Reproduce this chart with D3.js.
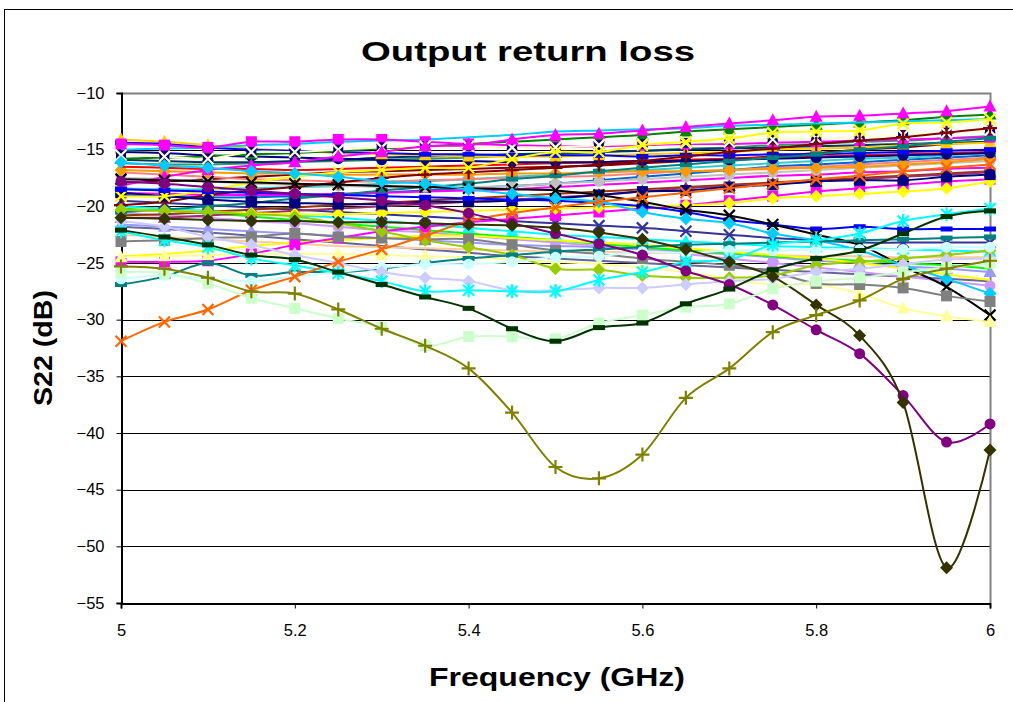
<!DOCTYPE html>
<html>
<head>
<meta charset="utf-8">
<script src="https://cdn.jsdelivr.net/npm/d3@7"></script>
<style>
  body { margin: 0; background: #fff; }
  svg { display: block; font-family: "Liberation Sans", Arial, sans-serif; }
</style>
</head>
<body>
<svg id="chart" width="1013" height="702"></svg>
<script>
// frequency points (GHz)
var freqs = [5.00,5.05,5.10,5.15,5.20,5.25,5.30,5.35,5.40,5.45,5.50,5.55,5.60,5.65,5.70,5.75,5.80,5.85,5.90,5.95,6.00];
var yTicks = [-10,-15,-20,-25,-30,-35,-40,-45,-50,-55];
var xTicks = [5, 5.2, 5.4, 5.6, 5.8, 6];

// S22 values (dB), one array per device
var devMagentaSq = [-14.5,-14.6,-14.8,-14.3,-14.3,-14.1,-14.1,-14.3,-14.5,-14.6,-14.7,-14.7,-14.6,-14.5,-14.5,-14.4,-14.3,-14.2,-14.1,-14.0,-13.9];
var devSkyTop = [-15.0,-14.9,-14.8,-14.6,-14.5,-14.3,-14.2,-14.1,-13.9,-13.7,-13.4,-13.3,-13.2,-13.1,-12.9,-12.8,-12.7,-12.6,-12.5,-12.4,-12.3];
var devGreen = [-15.8,-15.7,-15.6,-15.4,-15.3,-15.1,-14.9,-14.7,-14.5,-14.3,-14.1,-13.9,-13.7,-13.4,-13.2,-13.0,-12.8,-12.6,-12.4,-12.1,-11.9];
var devBlueTop = [-14.4,-14.5,-14.8,-15.0,-15.1,-15.2,-15.3,-15.4,-15.4,-15.5,-15.5,-15.5,-15.6,-15.5,-15.5,-15.4,-15.4,-15.3,-15.2,-15.1,-15.0];
var devGoldTri = [-14.1,-14.3,-14.6,-14.9,-15.1,-15.3,-15.4,-15.5,-15.6,-15.6,-15.6,-15.5,-15.4,-15.3,-15.2,-15.0,-14.9,-14.8,-14.6,-14.5,-14.4];
var devNavyCirc = [-15.2,-15.3,-15.5,-15.6,-15.7,-15.8,-15.9,-16.0,-16.0,-16.1,-16.1,-16.1,-16.0,-16.0,-15.9,-15.8,-15.7,-15.6,-15.5,-15.4,-15.3];
var devDarkTeal = [-15.9,-16.0,-16.1,-16.1,-16.0,-15.9,-15.7,-15.6,-15.5,-15.4,-15.3,-15.2,-15.1,-15.0,-14.9,-14.8,-14.7,-14.6,-14.5,-14.4,-14.3];
var devSeaGreen = [-16.2,-16.3,-16.3,-16.2,-16.1,-16.0,-15.9,-15.8,-15.7,-15.5,-15.4,-15.2,-15.1,-14.9,-14.8,-14.6,-14.5,-14.3,-14.2,-14.0,-13.8];
var devRed = [-16.5,-16.6,-16.7,-16.7,-16.8,-16.7,-16.6,-16.5,-16.4,-16.3,-16.2,-16.1,-16.0,-15.9,-15.8,-15.7,-15.6,-15.5,-15.4,-15.3,-15.2];
var devOrangeDia = [-16.8,-16.9,-17.0,-17.1,-17.1,-17.2,-17.2,-17.2,-17.2,-17.1,-17.1,-17.0,-16.9,-16.9,-16.8,-16.7,-16.6,-16.5,-16.3,-16.1,-15.8];
var devSalmon = [-17.0,-17.2,-17.4,-17.6,-17.7,-17.8,-17.8,-17.7,-17.6,-17.5,-17.4,-17.3,-17.1,-16.9,-16.8,-16.6,-16.5,-16.3,-16.1,-15.9,-15.7];
var devSilver = [-17.5,-17.6,-17.8,-18.0,-18.1,-18.2,-18.3,-18.3,-18.3,-18.2,-18.0,-17.8,-17.6,-17.4,-17.2,-17.0,-16.8,-16.6,-16.4,-16.2,-16.0];
var devMaroonLine = [-17.9,-17.8,-17.6,-17.4,-17.2,-17.0,-16.9,-16.8,-16.7,-16.6,-16.5,-16.4,-16.2,-16.0,-15.8,-15.6,-15.3,-15.0,-14.8,-14.5,-14.3];
var devAqua = [-18.4,-18.5,-18.5,-18.4,-18.3,-18.2,-18.0,-17.8,-17.6,-17.4,-17.2,-17.0,-16.8,-16.6,-16.4,-16.2,-16.0,-15.8,-15.7,-15.5,-15.3];
var devMagentaDia = [-18.8,-18.9,-19.0,-19.0,-19.0,-18.9,-18.8,-18.7,-18.6,-18.5,-18.3,-18.1,-17.9,-17.7,-17.5,-17.3,-17.2,-17.0,-16.9,-16.7,-16.6];
var devMidBlue = [-19.0,-19.1,-19.2,-19.2,-19.1,-19.0,-18.8,-18.6,-18.4,-18.2,-18.0,-17.7,-17.4,-17.1,-16.8,-16.5,-16.3,-16.1,-15.9,-15.7,-15.5];
var devBrown = [-20.8,-20.7,-20.5,-20.3,-20.1,-19.9,-19.7,-19.5,-19.3,-19.1,-18.9,-18.7,-18.5,-18.3,-18.1,-17.9,-17.7,-17.5,-17.3,-17.1,-16.9];
var devPlum = [-21.0,-21.0,-20.8,-20.6,-20.4,-20.2,-20.0,-19.8,-19.6,-19.4,-19.2,-19.0,-18.7,-18.4,-18.2,-18.0,-17.8,-17.6,-17.4,-17.2,-17.0];
var devTealUp = [-20.5,-20.3,-20.0,-19.7,-19.3,-19.0,-18.6,-18.3,-18.0,-17.6,-17.3,-16.9,-16.6,-16.3,-16.0,-15.7,-15.4,-15.0,-14.7,-14.3,-14.0];
var devMaroonPlus = [-19.9,-19.6,-19.0,-18.6,-18.3,-17.9,-17.5,-17.2,-17.0,-16.8,-16.6,-16.3,-16.0,-15.6,-15.2,-14.9,-14.5,-14.2,-13.9,-13.5,-13.1];
var devCreamX = [-15.5,-15.6,-15.8,-15.2,-15.2,-15.0,-14.8,-14.7,-14.7,-14.8,-14.8,-14.6,-14.5,-14.4,-14.3,-14.1,-14.0,-13.9,-13.7,-13.5,-13.3];
var devYellowX = [-19.1,-19.1,-18.6,-17.9,-17.4,-17.0,-16.8,-16.6,-16.6,-15.8,-15.2,-15.2,-14.6,-14.3,-14.0,-13.5,-13.4,-13.3,-12.7,-12.6,-12.3];
var devNavySq = [-18.8,-19.1,-19.4,-19.6,-19.7,-19.8,-19.8,-19.6,-19.6,-19.5,-19.3,-19.0,-18.7,-18.6,-18.3,-18.1,-17.8,-17.7,-17.7,-17.4,-17.2];
var devYellowDia = [-20.3,-20.4,-20.5,-20.6,-20.7,-20.7,-20.6,-20.5,-20.4,-20.3,-20.2,-20.1,-20.0,-19.9,-19.7,-19.3,-19.1,-18.9,-18.7,-18.4,-17.8];
var devMagentaTri = [-18.2,-17.4,-16.8,-16.4,-16.1,-15.6,-15.2,-14.7,-14.6,-14.1,-13.7,-13.6,-13.3,-13.0,-12.7,-12.4,-12.1,-12.0,-11.8,-11.6,-11.2];
var devSkyDia = [-16.1,-16.4,-16.6,-16.9,-17.1,-17.4,-17.8,-18.0,-18.5,-18.9,-19.3,-19.6,-20.5,-21.1,-21.5,-22.4,-23.0,-23.9,-25.2,-26.4,-27.7];
var devBlackX = [-17.6,-17.7,-17.8,-17.9,-18.0,-18.1,-18.2,-18.3,-18.4,-18.5,-18.6,-19.0,-19.6,-20.3,-20.8,-21.6,-22.5,-23.4,-25.3,-27.1,-29.6];
var devBlueLow = [-18.5,-18.6,-18.7,-18.8,-18.9,-19.0,-19.1,-19.2,-19.3,-19.4,-19.5,-19.7,-20.0,-20.5,-21.2,-21.6,-22.0,-21.8,-22.0,-22.0,-22.0];
var devMagentaLow = [-24.9,-24.9,-24.8,-24.2,-23.4,-22.8,-22.2,-21.8,-21.4,-21.1,-20.8,-20.5,-20.2,-19.9,-19.5,-19.1,-18.7,-18.4,-18.1,-17.8,-17.6];
var devIndigoX = [-19.5,-19.7,-19.9,-20.1,-20.3,-20.5,-20.7,-20.9,-21.1,-21.3,-21.5,-21.7,-21.9,-22.2,-22.5,-22.8,-23.0,-23.2,-23.2,-23.2,-23.2];
var devCyanTri = [-20.0,-20.2,-20.4,-20.6,-20.8,-21.0,-21.3,-21.6,-21.9,-22.2,-22.5,-22.7,-22.9,-23.1,-23.3,-23.5,-23.6,-23.7,-23.8,-23.9,-24.0];
var devLime = [-20.2,-20.4,-20.6,-20.9,-21.2,-21.5,-21.8,-22.1,-22.4,-22.7,-23.0,-23.3,-23.6,-23.9,-24.1,-24.4,-24.6,-24.8,-25.0,-25.2,-25.5];
var devLilac = [-20.6,-20.8,-21.0,-21.3,-21.5,-21.8,-22.1,-22.3,-22.6,-22.9,-23.2,-23.5,-23.8,-24.2,-24.6,-25.0,-25.4,-25.8,-26.2,-26.6,-27.0];
var devPeriwinkle = [-21.6,-21.8,-22.0,-22.2,-22.4,-22.6,-22.8,-23.0,-23.2,-23.4,-23.5,-23.6,-23.8,-24.0,-24.2,-24.5,-24.8,-25.0,-25.3,-25.5,-25.8];
var devBlueGrey = [-21.8,-22.0,-22.3,-22.6,-22.9,-23.2,-23.5,-23.8,-24.1,-24.4,-24.6,-24.8,-25.0,-25.2,-25.4,-25.6,-25.8,-26.0,-26.2,-26.4,-26.6];
var devTan = [-22.5,-22.7,-22.9,-23.1,-23.3,-23.5,-23.6,-23.7,-23.8,-23.9,-24.0,-24.0,-24.1,-24.1,-24.2,-24.3,-24.4,-24.4,-24.5,-24.5,-24.5];
var devYellowLow = [-24.4,-24.2,-23.9,-23.5,-23.2,-23.0,-22.8,-22.6,-22.6,-22.8,-23.0,-23.2,-23.4,-23.7,-24.0,-24.3,-24.6,-25.0,-25.5,-26.0,-26.5];
var devLtYellow = [-24.5,-24.4,-24.3,-24.2,-24.2,-24.2,-24.3,-24.4,-24.5,-24.7,-24.9,-25.1,-25.4,-25.8,-26.4,-26.9,-26.9,-27.7,-29.0,-29.7,-30.2];
var devYellowGreen = [-20.3,-20.4,-20.5,-20.7,-20.9,-21.5,-22.2,-23.0,-23.6,-24.3,-25.5,-25.6,-26.1,-26.3,-26.3,-26.1,-25.2,-24.9,-24.6,-24.3,-23.9];
var devGreySq = [-23.1,-23.0,-22.8,-22.7,-22.4,-22.7,-22.8,-22.9,-22.9,-23.4,-23.9,-24.2,-24.6,-24.9,-25.2,-25.8,-26.8,-26.9,-27.2,-27.9,-28.4];
var devTealLow = [-26.9,-26.2,-25.0,-26.1,-25.8,-25.8,-25.5,-25.0,-24.6,-24.3,-24.0,-23.8,-23.6,-23.4,-23.3,-23.2,-23.1,-23.0,-22.9,-22.8,-22.7];
var devLtCyan = [-26.4,-26.1,-26.4,-26.6,-26.2,-25.8,-25.4,-25.1,-25.1,-24.9,-24.5,-24.4,-24.0,-24.1,-23.9,-23.9,-23.8,-23.8,-23.8,-23.6,-23.6];
var devLavender = [-21.3,-21.8,-22.7,-23.4,-24.3,-25.0,-25.8,-26.3,-26.6,-27.4,-27.4,-27.2,-27.2,-26.9,-26.6,-26.4,-25.8,-25.5,-25.1,-24.7,-24.6];
var devCyanStar = [-22.2,-23.0,-23.6,-24.6,-25.2,-25.9,-26.6,-27.5,-27.4,-27.5,-27.5,-26.5,-25.8,-24.9,-24.7,-23.4,-23.0,-22.4,-21.3,-20.7,-20.2];
var devOrangeX = [-31.9,-30.2,-29.1,-27.4,-26.2,-24.9,-23.8,-22.6,-21.3,-20.6,-20.1,-19.6,-19.2,-18.8,-18.4,-18.0,-17.6,-17.3,-16.9,-16.6,-16.3];
var devPurple = [-17.8,-18.0,-18.3,-18.6,-18.9,-19.2,-19.5,-19.9,-20.6,-21.5,-22.4,-23.3,-24.3,-25.7,-26.9,-28.7,-30.9,-33.0,-36.7,-40.8,-39.2];
var devDarkOlive = [-21.0,-21.1,-21.2,-21.3,-21.3,-21.4,-21.4,-21.5,-21.6,-21.7,-21.9,-22.3,-22.9,-23.8,-24.9,-26.2,-28.7,-31.4,-37.3,-51.9,-41.5];
var devLtGreen = [-25.8,-25.9,-26.8,-28.1,-29.0,-29.9,-30.7,-32.3,-31.5,-31.5,-31.7,-30.3,-29.6,-28.9,-28.6,-27.3,-26.6,-26.3,-25.8,-25.4,-25.0];
var devDarkGreen = [-22.1,-22.7,-23.4,-24.3,-24.7,-25.8,-26.9,-28.0,-29.0,-30.8,-31.9,-30.7,-30.3,-28.6,-27.3,-25.6,-24.6,-23.9,-22.4,-20.9,-20.4];
var devOlive = [-25.3,-25.5,-26.3,-27.5,-27.7,-29.1,-30.8,-32.3,-34.3,-38.2,-43.0,-44.0,-41.9,-36.9,-34.3,-31.1,-29.6,-28.3,-26.4,-25.5,-24.8];

// drawing order and look of each series
var series = [
  { v: devBlueGrey, c: "#666699", m: "none" },
  { v: devTan, c: "#FFCC99", m: "none" },
  { v: devPeriwinkle, c: "#9999FF", m: "triangle" },
  { v: devLilac, c: "#CC99FF", m: "circle" },
  { v: devLime, c: "#00FF00", m: "none" },
  { v: devCyanTri, c: "#00FFFF", m: "triangle" },
  { v: devIndigoX, c: "#333399", m: "x" },
  { v: devYellowLow, c: "#FFFF00", m: "none" },
  { v: devMagentaLow, c: "#FF00FF", m: "square" },
  { v: devBrown, c: "#993300", m: "none" },
  { v: devPlum, c: "#993366", m: "triangle" },
  { v: devMidBlue, c: "#0066CC", m: "dash" },
  { v: devMagentaDia, c: "#FF00FF", m: "none" },
  { v: devAqua, c: "#33CCCC", m: "dash" },
  { v: devMaroonLine, c: "#800000", m: "none" },
  { v: devSilver, c: "#C0C0C0", m: "circle" },
  { v: devSalmon, c: "#FF8080", m: "none" },
  { v: devOrangeDia, c: "#FF9900", m: "diamond" },
  { v: devRed, c: "#FF0000", m: "none" },
  { v: devSeaGreen, c: "#339966", m: "none" },
  { v: devDarkTeal, c: "#003366", m: "none" },
  { v: devNavyCirc, c: "#000080", m: "circle" },
  { v: devGoldTri, c: "#FFCC00", m: "triangle" },
  { v: devBlueTop, c: "#0000FF", m: "dash" },
  { v: devGreen, c: "#008000", m: "triangle" },
  { v: devSkyTop, c: "#00CCFF", m: "none" },
  { v: devMagentaSq, c: "#FF00FF", m: "square" },
  { v: devCreamX, c: "#FFFFCC", m: "x", bg: "#000080" },
  { v: devTealUp, c: "#008080", m: "dash" },
  { v: devMaroonPlus, c: "#800000", m: "plus" },
  { v: devYellowDia, c: "#FFFF00", m: "diamond" },
  { v: devNavySq, c: "#000080", m: "square" },
  { v: devYellowX, c: "#FFFF00", m: "x" },
  { v: devMagentaTri, c: "#FF00FF", m: "triangle" },
  { v: devBlueLow, c: "#0000FF", m: "dash" },
  { v: devBlackX, c: "#000000", m: "x" },
  { v: devSkyDia, c: "#00CCFF", m: "diamond" },
  { v: devLtYellow, c: "#FFFF99", m: "triangle" },
  { v: devGreySq, c: "#808080", m: "square" },
  { v: devYellowGreen, c: "#99CC00", m: "diamond" },
  { v: devTealLow, c: "#008080", m: "dash" },
  { v: devLtCyan, c: "#CCFFFF", m: "circle" },
  { v: devLavender, c: "#CCCCFF", m: "diamond" },
  { v: devCyanStar, c: "#00FFFF", m: "star" },
  { v: devOrangeX, c: "#FF6600", m: "x" },
  { v: devPurple, c: "#800080", m: "circle" },
  { v: devDarkOlive, c: "#333300", m: "diamond" },
  { v: devLtGreen, c: "#CCFFCC", m: "square" },
  { v: devDarkGreen, c: "#003300", m: "dash" },
  { v: devOlive, c: "#808000", m: "plus" }
];

(function() {
  var svg = d3.select("#chart");
  var plotL = 121, plotR = 990, plotT = 93, plotB = 603;

  var x = d3.scaleLinear().domain([5, 6]).range([plotL, plotR]);
  var y = d3.scaleLinear().domain([-55, -10]).range([plotB, plotT]);

  // outer chart frame
  svg.append("rect").attr("x", 4.5).attr("y", 9.5).attr("width", 1030).attr("height", 720)
    .attr("fill", "#fff").attr("stroke", "#000").attr("stroke-width", 1);

  // title
  svg.append("text").attr("x", 528).attr("y", 61).attr("text-anchor", "middle")
    .attr("font-size", 27).attr("font-weight", "bold")
    .attr("textLength", 334).attr("lengthAdjust", "spacingAndGlyphs")
    .text("Output return loss");

  // gridlines
  svg.append("g").selectAll("line").data(yTicks.slice(1, -1)).join("line")
    .attr("x1", plotL).attr("x2", plotR)
    .attr("y1", function(d) { return Math.round(y(d)) + 0.5; })
    .attr("y2", function(d) { return Math.round(y(d)) + 0.5; })
    .attr("stroke", "#000").attr("stroke-width", 1);

  // plot area border (top / right)
  svg.append("path").attr("d", "M" + plotL + "," + (plotT + 0.5) + "H" + (plotR + 0.5) + "V" + plotB)
    .attr("fill", "none").attr("stroke", "#808080").attr("stroke-width", 2);

  // axes
  var yAxis = d3.axisLeft(y).tickValues(yTicks).tickSize(5).tickPadding(12);
  var xAxis = d3.axisBottom(x).tickValues(xTicks).tickSize(5).tickPadding(16)
    .tickFormat(function(d) { return String(d); });

  var gy = svg.append("g").attr("transform", "translate(" + (plotL + 0.5) + ",0)").call(yAxis);
  var gx = svg.append("g").attr("transform", "translate(0," + (plotB + 0.5) + ")").call(xAxis);
  [gx, gy].forEach(function(g) {
    g.attr("font-size", 16.5).attr("font-family", "'Liberation Sans', Arial, sans-serif");
    g.select(".domain").attr("stroke", "#000").attr("stroke-width", 2);
    g.selectAll(".tick line").attr("stroke", "#000");
    g.selectAll("text").attr("fill", "#000");
  });

  // series lines
  var line = d3.line()
    .x(function(d, i) { return x(freqs[i]); })
    .y(function(d) { return y(d); })
    .curve(d3.curveCatmullRom.alpha(0));

  var plot = svg.append("g");

  function drawMarker(g, type, color, bg) {
    if (type === "diamond") {
      g.append("path").attr("d", "M0,-6.5L6.5,0L0,6.5L-6.5,0Z").attr("fill", color);
    } else if (type === "square") {
      g.append("rect").attr("x", -5.5).attr("y", -5.5).attr("width", 11).attr("height", 11).attr("fill", color);
    } else if (type === "triangle") {
      g.append("path").attr("d", "M0,-7L6.5,5L-6.5,5Z").attr("fill", color);
    } else if (type === "circle") {
      g.append("circle").attr("r", 5.5).attr("fill", color);
    } else if (type === "x") {
      if (bg) g.append("rect").attr("x", -5).attr("y", -5).attr("width", 10).attr("height", 10).attr("fill", bg);
      g.append("path").attr("d", "M-5.5,-5.5L5.5,5.5M-5.5,5.5L5.5,-5.5")
        .attr("stroke", color).attr("stroke-width", 2.2).attr("fill", "none");
    } else if (type === "star") {
      g.append("path").attr("d", "M-5.5,-5.5L5.5,5.5M-5.5,5.5L5.5,-5.5M0,-7L0,7")
        .attr("stroke", color).attr("stroke-width", 2.2).attr("fill", "none");
    } else if (type === "plus") {
      g.append("path").attr("d", "M-7,0L7,0M0,-7L0,7")
        .attr("stroke", color).attr("stroke-width", 2.2).attr("fill", "none");
    } else if (type === "dash") {
      g.append("rect").attr("x", -6).attr("y", -2.5).attr("width", 12).attr("height", 5).attr("fill", color);
    }
  }

  series.forEach(function(s) {
    var g = plot.append("g");
    g.append("path").attr("d", line(s.v))
      .attr("fill", "none").attr("stroke", s.c).attr("stroke-width", 2);
    if (s.m === "none") return;
    s.v.forEach(function(d, i) {
      var mg = g.append("g").attr("transform", "translate(" + x(freqs[i]) + "," + y(d) + ")");
      drawMarker(mg, s.m, s.c, s.bg);
    });
  });

  // axis titles
  svg.append("text").attr("x", 557).attr("y", 686).attr("text-anchor", "middle")
    .attr("font-size", 25).attr("font-weight", "bold")
    .attr("textLength", 256).attr("lengthAdjust", "spacingAndGlyphs")
    .text("Frequency (GHz)");

  svg.append("text").attr("transform", "translate(52,348) rotate(-90)").attr("text-anchor", "middle")
    .attr("font-size", 25).attr("font-weight", "bold")
    .attr("textLength", 116).attr("lengthAdjust", "spacingAndGlyphs")
    .text("S22 (dB)");
})();
</script>
</body>
</html>
